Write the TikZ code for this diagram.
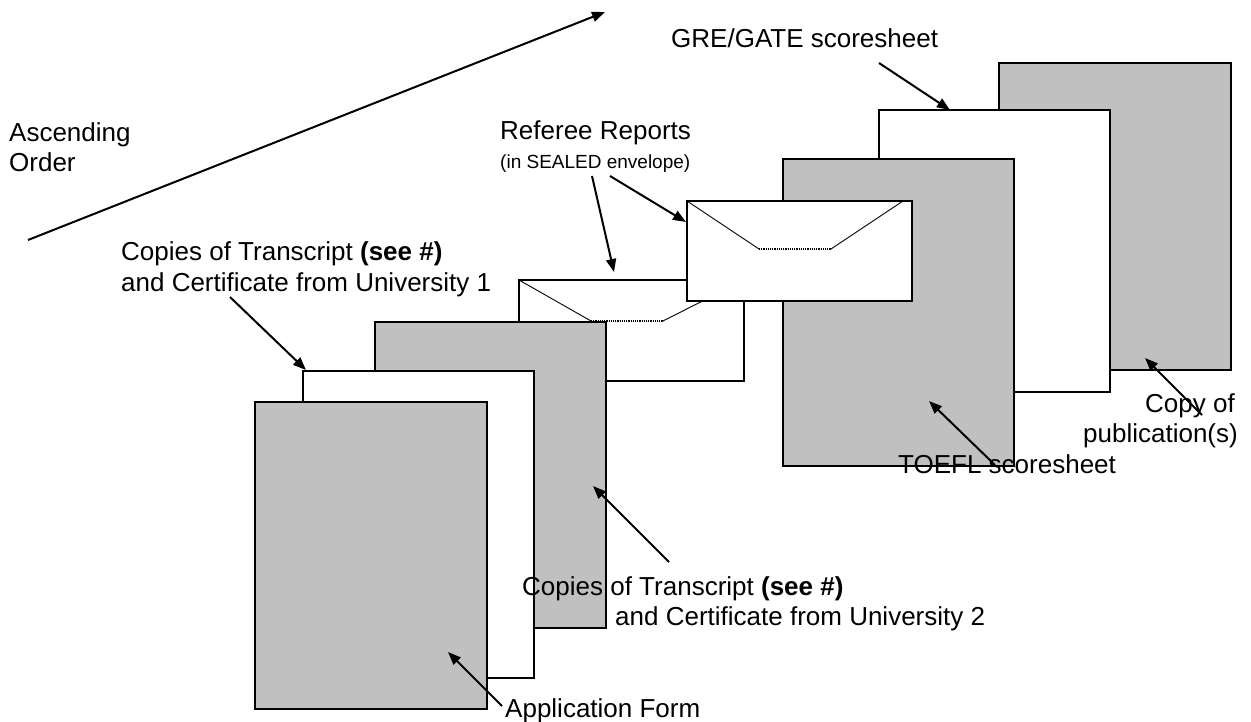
\documentclass[tikz,border=0pt]{standalone}
\usepackage{fontspec}
\setmainfont{Liberation Sans}
\usetikzlibrary{arrows.meta}
\definecolor{sheetgray}{HTML}{C0C0C0}
\begin{document}
\begin{tikzpicture}[x=1pt,y=-1pt,
  sheet/.style={draw=black, line width=2pt, anchor=north west, inner sep=0pt, outer sep=0pt},
  gsheet/.style={sheet, fill=sheetgray},
  wsheet/.style={sheet, fill=white},
  lbl/.style={anchor=base west, inner sep=0pt, font=\fontsize{26}{30}\selectfont},
  lble/.style={lbl, anchor=base east},
  small/.style={anchor=base west, inner sep=0pt, font=\fontsize{19}{22}\selectfont},
  ptr/.style={line width=2pt, -{Triangle[length=13pt,width=10pt]}},
  flap/.style={line width=0.9pt},
  seal/.style={line width=1.2pt, densely dotted}]
\useasboundingbox (0,0) rectangle (1251,722);
\fill[white] (0,0) rectangle (1251,722);

% back sheets
\node[gsheet, minimum width=232pt, minimum height=307pt] (pub) at (999,63) {};
\node[wsheet, minimum width=231pt, minimum height=282pt] (gre) at (879,110) {};
\node[gsheet, minimum width=231pt, minimum height=307pt] (toefl) at (783,159) {};

% envelope 1
\node[wsheet, minimum width=225pt, minimum height=101pt] (env1) at (519,280) {};
\coordinate (e1a) at (591,321);
\coordinate (e1b) at (663,321);
\draw[flap] (env1.north west) -- (e1a);
\draw[seal] (e1a) -- (e1b);
\draw[flap] (e1b) -- (env1.north east);

% envelope 2
\node[wsheet, minimum width=225pt, minimum height=100pt] (env2) at (687,201) {};
\coordinate (e2a) at (759,249);
\coordinate (e2b) at (831,249);
\coordinate (e2c) at (903,201);
\draw[flap] (env2.north west) -- (e2a);
\draw[seal] (e2a) -- (e2b);
\draw[flap] (e2b) -- (e2c);

% front sheets
\node[gsheet, minimum width=231pt, minimum height=306pt] (uni2) at (375,322) {};
\node[wsheet, minimum width=231pt, minimum height=307pt] (uni1) at (303,371) {};
\node[gsheet, minimum width=232pt, minimum height=307pt] (app) at (255,402) {};

% labels
\node[lbl] (asc1) at (9,142) {Ascending};
\node[lbl] (asc2) at (9,172) {Order};
\node[lbl] (ref1) at (500,140) {Referee Reports};
\node[small] (ref2) at (500,169) {(in SEALED envelope)};
\node[lbl] (grel) at (671,48) {GRE/GATE scoresheet};
\node[lbl] (u1a) at (121,261) {Copies of Transcript \textbf{(see \#)}};
\node[lbl] (u1b) at (121,291) {and Certificate from University 1};
\node[lbl] (u2a) at (522,595) {Copies of Transcript \textbf{(see \#)}};
\node[lbl] (u2b) at (615,625) {and Certificate from University 2};
\node[lbl] (appl) at (505,717) {Application Form};
\node[lbl] (toefll) at (898,473) {TOEFL scoresheet};
\node[lble] (pub1) at (1235,412) {Copy of};
\node[lble] (pub2) at (1238,442) {publication(s)};

% arrow end points
\coordinate (ascS) at (28,240);   \coordinate (ascE) at (605,12);
\coordinate (r1S) at (592,176);   \coordinate (r1E) at (614,272);
\coordinate (r2S) at (610,176);   \coordinate (r2E) at (686,222);
\coordinate (gS) at (879,63);     \coordinate (gE) at (950,110);
\coordinate (u1S) at (230,297);   \coordinate (u1E) at (306,370);
\coordinate (u2S) at (669,562);   \coordinate (u2E) at (593,486);
\coordinate (aS) at (502,706);    \coordinate (aE) at (448,652);
\coordinate (tS) at (995,465);    \coordinate (tE) at (929,401);
\coordinate (pS) at (1202,415);   \coordinate (pE) at (1145,358);

\draw[ptr] (ascS) -- (ascE);
\draw[ptr] (r1S) -- (r1E);
\draw[ptr] (r2S) -- (r2E);
\draw[ptr] (gS) -- (gE);
\draw[ptr] (u1S) -- (u1E);
\draw[ptr] (u2S) -- (u2E);
\draw[ptr] (aS) -- (aE);
\draw[ptr] (tS) -- (tE);
\draw[ptr] (pS) -- (pE);
\end{tikzpicture}
\end{document}
